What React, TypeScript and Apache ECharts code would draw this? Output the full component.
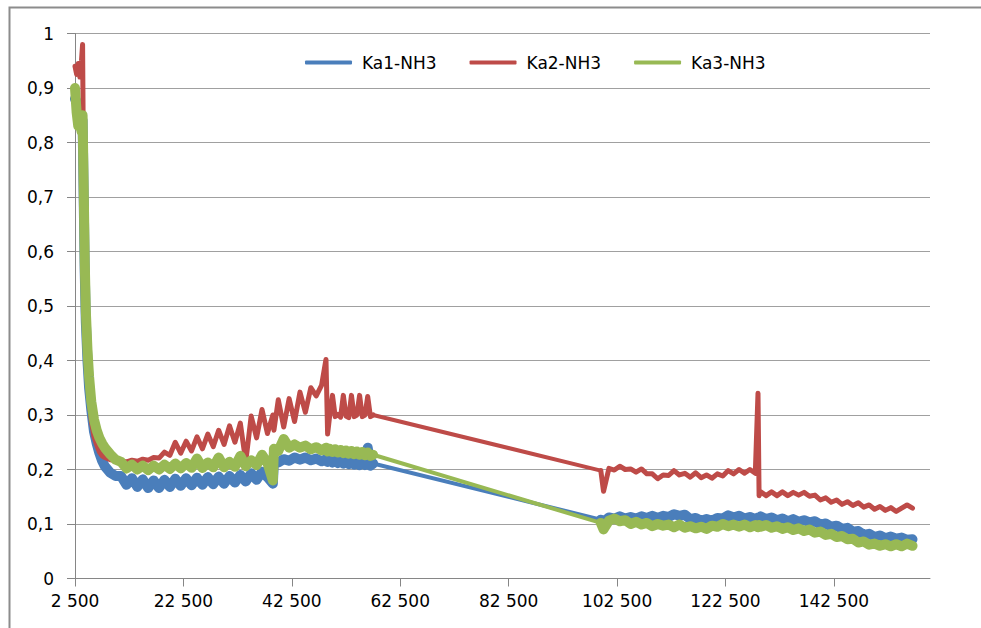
import React, { useEffect, useRef } from 'react';
import * as echarts from 'echarts';

// sample times (x values)
const timeS = [
  2500, 2800, 3100, 3400, 3700, 3900, 4100, 4300, 4500, 4800, 5100, 5500, 6000, 6500, 7000, 7500, 8000, 9000, 10000,
  11000, 12000, 13000, 14000, 15000, 16000, 17000, 18000, 19000, 20000, 21000, 22000, 23000, 24000,
  25000, 26000, 27000, 28000, 29000, 30000, 31000, 32000, 33000, 34000, 35000, 36000, 37000, 38000,
  39000, 39200,
  40000, 41000, 42000, 43000, 44000, 45000, 46000, 47000, 48000,
  48800, 49100,
  49500, 50000, 50500, 51000, 51500, 52000, 52500, 53000, 53500, 54000, 54500, 55000, 55500, 56000, 56500, 57000, 57500,
  99500, 100000,
  101000, 102000, 103000, 104000, 105000, 106000, 107000, 108000, 109000, 110000, 111000, 112000, 113000, 114000,
  115000, 116000, 117000, 118000, 119000, 120000, 121000, 122000, 123000, 124000, 125000, 126000, 127000, 128000,
  128500, 128700,
  129000, 130000, 131000, 132000, 133000, 134000, 135000, 136000, 137000, 138000, 139000, 140000, 141000, 142000,
  143000, 144000, 145000, 146000, 147000, 148000, 149000, 150000, 151000, 152000, 153000, 154000, 155000, 156000, 157000,
];

const ka1 = [
  0.880, 0.875, 0.860, 0.850, 0.845, 0.840, 0.700, 0.560, 0.470, 0.400, 0.350, 0.310, 0.270, 0.248, 0.230, 0.216, 0.206, 0.194, 0.188,
  0.188, 0.172, 0.184, 0.168, 0.182, 0.166, 0.180, 0.166, 0.181, 0.168, 0.183, 0.170, 0.184, 0.171,
  0.185, 0.172, 0.186, 0.173, 0.187, 0.174, 0.188, 0.176, 0.190, 0.178, 0.193, 0.181, 0.196, 0.186,
  0.174, 0.216,
  0.213, 0.219, 0.216, 0.222, 0.218, 0.222, 0.217, 0.220, 0.215,
  0.219, 0.214,
  0.218, 0.213, 0.217, 0.212, 0.216, 0.211, 0.215, 0.210, 0.214, 0.209, 0.213, 0.208, 0.212, 0.208, 0.240, 0.207, 0.211,
  0.108, 0.104,
  0.112, 0.110, 0.114, 0.110, 0.113, 0.110, 0.114, 0.111, 0.115, 0.111, 0.115, 0.113, 0.118, 0.115,
  0.117, 0.109, 0.111, 0.106, 0.109, 0.106, 0.111, 0.110, 0.116, 0.112, 0.115, 0.110, 0.113, 0.109,
  0.112, 0.109,
  0.114, 0.109, 0.112, 0.107, 0.110, 0.105, 0.109, 0.104, 0.107, 0.103, 0.105, 0.099, 0.101, 0.095,
  0.097, 0.091, 0.093, 0.086, 0.087, 0.080, 0.082, 0.076, 0.079, 0.074, 0.077, 0.073, 0.075, 0.071, 0.072,
];

const ka2 = [
  0.940, 0.925, 0.945, 0.920, 0.950, 0.980, 0.700, 0.540, 0.450, 0.380, 0.330, 0.290, 0.260, 0.245, 0.232, 0.225, 0.222, 0.218, 0.217,
  0.216, 0.214, 0.217, 0.215, 0.219, 0.217, 0.222, 0.221, 0.232, 0.226, 0.250, 0.230, 0.252, 0.234,
  0.260, 0.238, 0.265, 0.242, 0.272, 0.246, 0.280, 0.250, 0.285, 0.214, 0.298, 0.258, 0.310, 0.266,
  0.300, 0.272,
  0.328, 0.278, 0.330, 0.288, 0.342, 0.305, 0.350, 0.335, 0.355,
  0.402, 0.265,
  0.300, 0.336, 0.297, 0.301, 0.296, 0.336, 0.298, 0.295, 0.336, 0.297, 0.300, 0.336, 0.297, 0.300, 0.334, 0.297, 0.300,
  0.198, 0.160,
  0.202, 0.199, 0.206, 0.200, 0.201, 0.195, 0.201, 0.192, 0.192, 0.183, 0.190, 0.189, 0.198, 0.190,
  0.193, 0.186, 0.194, 0.185, 0.190, 0.184, 0.192, 0.188, 0.198, 0.192, 0.200, 0.193, 0.200, 0.193,
  0.340, 0.152,
  0.159, 0.152, 0.159, 0.152, 0.159, 0.152, 0.158, 0.153, 0.158, 0.151, 0.153, 0.144, 0.148, 0.140,
  0.144, 0.136, 0.141, 0.134, 0.139, 0.131, 0.135, 0.127, 0.132, 0.125, 0.130, 0.123, 0.129, 0.135, 0.129,
];

const ka3 = [
  0.900, 0.855, 0.830, 0.850, 0.820, 0.850, 0.720, 0.580, 0.490, 0.420, 0.370, 0.325, 0.292, 0.272, 0.258, 0.248, 0.240, 0.228, 0.218,
  0.214, 0.202, 0.209, 0.200, 0.207, 0.199, 0.207, 0.200, 0.209, 0.201, 0.211, 0.202, 0.212, 0.203,
  0.220, 0.203, 0.213, 0.204, 0.222, 0.204, 0.214, 0.205, 0.225, 0.206, 0.217, 0.208, 0.227, 0.212,
  0.180, 0.238,
  0.234, 0.256, 0.240, 0.246, 0.240, 0.244, 0.237, 0.241, 0.235,
  0.240, 0.233,
  0.238, 0.232, 0.237, 0.231, 0.236, 0.230, 0.235, 0.229, 0.234, 0.228, 0.233, 0.227, 0.232, 0.226, 0.231, 0.225, 0.227,
  0.102, 0.090,
  0.106, 0.110, 0.105, 0.107, 0.100, 0.104, 0.099, 0.102, 0.096, 0.100, 0.097, 0.099, 0.094, 0.099,
  0.093, 0.096, 0.092, 0.095, 0.091, 0.097, 0.095, 0.100, 0.096, 0.099, 0.095, 0.099, 0.094, 0.098,
  0.094, 0.098,
  0.095, 0.098, 0.093, 0.096, 0.091, 0.094, 0.089, 0.092, 0.087, 0.090, 0.084, 0.086, 0.080, 0.082,
  0.076, 0.078, 0.072, 0.073, 0.066, 0.068, 0.062, 0.064, 0.060, 0.063, 0.059, 0.063, 0.059, 0.064, 0.060,
];

const seriesNames = ['Ka1-NH3', 'Ka2-NH3', 'Ka3-NH3'];
const seriesColors = ['#4a7ebb', '#be4b48', '#98b954'];
const xTickValues = [2500, 22500, 42500, 62500, 82500, 102500, 122500, 142500];

function fmtX(v: number): string {
  const s = String(Math.round(v));
  return s.length > 3 ? s.slice(0, -3) + ' ' + s.slice(-3) : s;
}
function fmtY(v: number): string {
  return String(Math.round(v * 10) / 10).replace('.', ',');
}

export default function App() {
  const ref = useRef<HTMLDivElement>(null);
  useEffect(() => {
    const chart = echarts.init(ref.current as HTMLDivElement, null, { renderer: 'svg' });
    const seriesData = [ka1, ka2, ka3];
    const denseWidths = [10, 5, 10];
    const font = 'DejaVu Sans';
    // index of the last sample before the long gap in the record
    let gapAt = -1;
    for (let i = 0; i < timeS.length - 1; i++) {
      if (timeS[i + 1] - timeS[i] > 20000) gapAt = i;
    }
    const denseSeries = seriesNames.map((name, k) => {
      const data: (number[] | null)[] = [];
      timeS.forEach((t, i) => {
        data.push([t, seriesData[k][i]]);
        if (i === gapAt) data.push(null);
      });
      return {
        name,
        type: 'line',
        data,
        connectNulls: false,
        showSymbol: false,
        symbol: 'none',
        color: seriesColors[k],
        lineStyle: { color: seriesColors[k], width: denseWidths[k], cap: 'round', join: 'round' },
        emphasis: { disabled: true },
        z: 2,
      };
    });
    const bridgeSeries = seriesNames.map((name, k) => ({
      name,
      type: 'line',
      data: [
        [timeS[gapAt], seriesData[k][gapAt]],
        [timeS[gapAt + 1], seriesData[k][gapAt + 1]],
      ],
      showSymbol: false,
      symbol: 'none',
      color: seriesColors[k],
      lineStyle: { color: seriesColors[k], width: 4, cap: 'round' },
      emphasis: { disabled: true },
      z: 2,
    }));
    const series: any[] = [];
    for (let k = 0; k < 3; k++) {
      series.push(bridgeSeries[k]);
      series.push(denseSeries[k]);
    }
    chart.setOption({
      animation: false,
      backgroundColor: '#ffffff',
      textStyle: { fontFamily: font },
      graphic: [
        {
          type: 'rect',
          silent: true,
          z: -10,
          shape: { x: 9.5, y: 7.5, width: 1200, height: 1000 },
          style: { fill: 'none', stroke: '#8c8c8c', lineWidth: 2 },
        },
      ],
      grid: { left: 75, top: 33.5, right: 51, bottom: 49.5 },
      legend: {
        show: true,
        left: 300,
        top: 49,
        itemWidth: 47,
        itemHeight: 4,
        itemGap: 33,
        icon: 'roundRect',
        data: seriesNames,
        textStyle: { fontFamily: font, fontSize: 17, color: '#000', padding: [0, 0, 0, 5] },
      },
      xAxis: {
        type: 'value',
        min: 2500,
        max: 160230,
        axisLine: { show: true, onZero: false, lineStyle: { color: '#868686', width: 1 } },
        axisTick: { show: true, length: 8, customValues: xTickValues, lineStyle: { color: '#868686' } },
        axisLabel: { customValues: xTickValues, formatter: fmtX, fontSize: 17, color: '#000', margin: 14, fontFamily: font },
        splitLine: { show: false },
      },
      yAxis: {
        type: 'value',
        min: 0,
        max: 1,
        interval: 0.1,
        axisLine: { show: true, lineStyle: { color: '#868686', width: 1 } },
        axisTick: { show: true, length: 8, lineStyle: { color: '#868686' } },
        axisLabel: { formatter: fmtY, fontSize: 17, color: '#000', margin: 21, fontFamily: font },
        splitLine: { show: true, lineStyle: { color: '#a0a0a0', width: 1 } },
      },
      series,
    });
    return () => chart.dispose();
  }, []);
  return <div ref={ref} style={{ position: 'fixed', left: 0, top: 0, width: 981, height: 628 }} />;
}
